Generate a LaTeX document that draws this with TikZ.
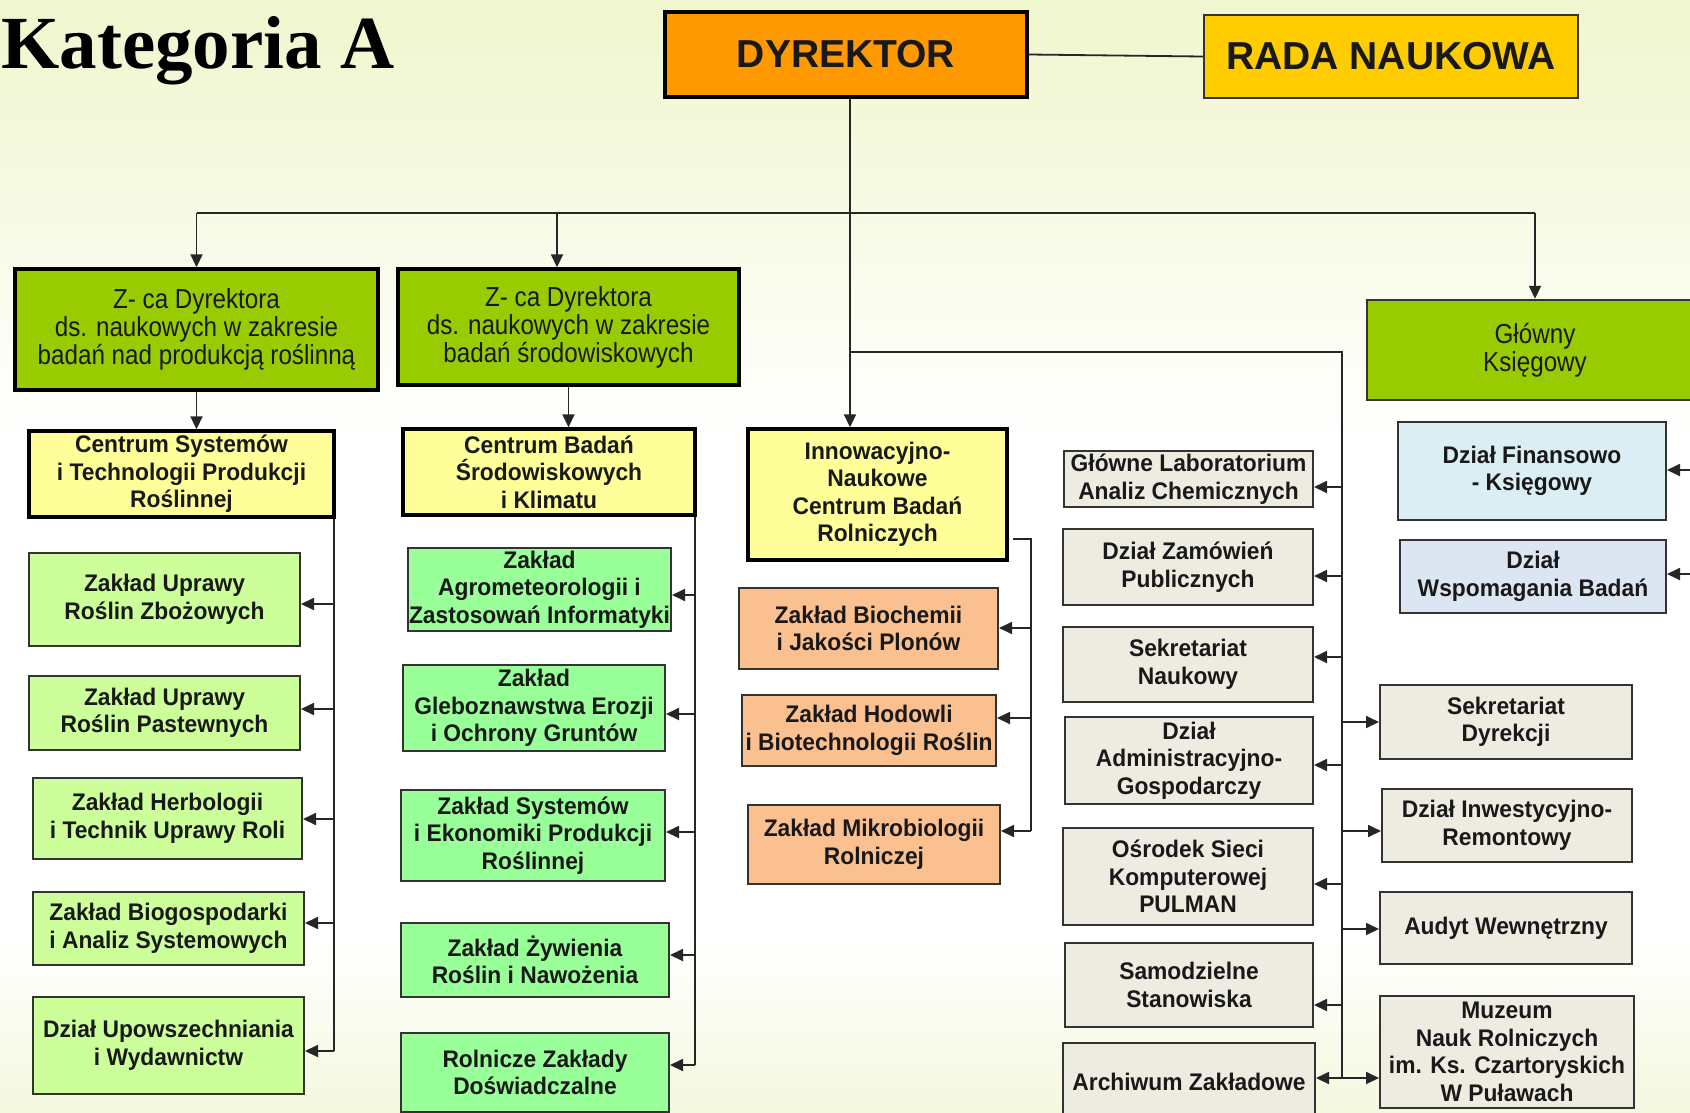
\documentclass[tikz,border=0pt]{standalone}
\usepackage{fontspec}
\setmainfont{Liberation Sans}
\newfontfamily\bxfamily{Liberation Sans}[FakeStretch=0.95]
\newfontfamily\zfamily{Liberation Sans}[FakeStretch=0.88]
\newfontfamily\ktfamily{Liberation Serif}
\usetikzlibrary{arrows.meta,calc}

\definecolor{cDyr}{HTML}{FF9900}
\definecolor{cRada}{HTML}{FFCC00}
\definecolor{cZ}{HTML}{99CC00}
\definecolor{cCen}{HTML}{FFFF99}
\definecolor{cL}{HTML}{CCFF99}
\definecolor{cM}{HTML}{99FF99}
\definecolor{cO}{HTML}{FAC090}
\definecolor{cG}{HTML}{EEECE1}
\definecolor{cBa}{HTML}{DBEEF4}
\definecolor{cBb}{HTML}{DCE6F2}
\definecolor{bgTop}{HTML}{DDEB90}
\definecolor{bgBot}{HTML}{D0E47C}

\pgfdeclareverticalshading{bgsh}{100bp}{color(0bp)=(bgBot); color(33bp)=(white); color(55bp)=(white); color(100bp)=(bgTop)}

\newcommand{\bxfont}{\bxfamily\bfseries\fontsize{24}{27.5}\selectfont}
\newcommand{\zfont}{\zfamily\fontsize{27.5}{28}\selectfont}
\newcommand{\obox}[7]{\node[#2, minimum width={#5-#3}, minimum height={#6-#4}] (#1) at ({(#3+#5)/2},{(#4+#6)/2}) {#7};}
\newcommand{\larr}[3]{\draw[arr] (#1 |- 0,#3) -- (#2.east |- 0,#3);}
\newcommand{\rarr}[3]{\draw[arr] (#1 |- 0,#3) -- (#2.west |- 0,#3);}

\tikzset{
  bx/.style={rectangle, draw=black!80, line width=2pt, align=center, inner sep=0pt, font=\bxfont, text=black!90},
  bxk/.style={bx, line width=3.4pt, draw=black},
  conn/.style={line width=1.8pt, draw=black!85},
  arr/.style={conn, -{Triangle[length=13pt,width=12pt]}},
}

\begin{document}
\begin{tikzpicture}[x=1pt, y=-1pt]
\useasboundingbox (0,0) rectangle (1690,1112);
\clip (0,0) rectangle (1690,1112);
\shade[shading=bgsh] (0,0) rectangle (1690,1112);

\node[anchor=base west, inner sep=0pt, font=\ktfamily\bfseries\fontsize{75}{80}\selectfont] (title) at (1,68) {Kategoria A};

% top level
\obox{dyr}{bxk, fill=cDyr, line width=3.8pt, font=\bfseries\fontsize{39}{40}\selectfont}{665}{12}{1027}{97}{DYREKTOR}
\obox{rada}{bx, fill=cRada, line width=2.4pt, font=\bfseries\fontsize{39}{40}\selectfont}{1204}{15}{1578}{98}{RADA NAUKOWA}

\obox{z1}{bxk, fill=cZ, font=\zfont}{15}{269}{378}{390}{\rule{0pt}{12pt}Z- ca Dyrektora\\ds. naukowych w zakresie\\badań nad produkcją roślinną}
\obox{z2}{bxk, fill=cZ, font=\zfont}{398}{269}{739}{385}{Z- ca Dyrektora\\ds. naukowych w zakresie\\badań środowiskowych}
\obox{gk}{bx, fill=cZ, line width=2.4pt, font=\zfont}{1367}{300}{1703}{400}{Główny\\Księgowy}

% centres
\obox{cs}{bxk, fill=cCen}{29}{431}{334}{517}{Centrum Systemów\\i Technologii Produkcji\\Roślinnej}
\obox{cb}{bxk, fill=cCen}{403}{429}{695}{515}{Centrum Badań\\Środowiskowych\\i Klimatu}
\obox{in}{bxk, fill=cCen}{748}{429}{1007}{560}{Innowacyjno-\\Naukowe\\Centrum Badań\\Rolniczych}

% left column
\obox{l1}{bx, fill=cL}{29}{553}{300}{646}{Zakład Uprawy\\Roślin Zbożowych}
\obox{l2}{bx, fill=cL}{29}{676}{300}{750}{Zakład Uprawy\\Roślin Pastewnych}
\obox{l3}{bx, fill=cL}{33}{778}{302}{859}{Zakład Herbologii\\i Technik Uprawy Roli}
\obox{l4}{bx, fill=cL}{33}{892}{304}{965}{Zakład Biogospodarki\\i Analiz Systemowych}
\obox{l5}{bx, fill=cL}{33}{997}{304}{1094}{Dział Upowszechniania\\i Wydawnictw}

% second column
\obox{m1}{bx, fill=cM}{408}{548}{671}{631}{Zakład\\Agrometeorologii i\\Zastosowań Informatyki}
\obox{m2}{bx, fill=cM}{403}{665}{665}{751}{Zakład\\Gleboznawstwa Erozji\\i Ochrony Gruntów}
\obox{m3}{bx, fill=cM}{401}{790}{665}{881}{Zakład Systemów\\i Ekonomiki Produkcji\\Roślinnej}
\obox{m4}{bx, fill=cM}{401}{923}{669}{997}{Zakład Żywienia\\Roślin i Nawożenia}
\obox{m5}{bx, fill=cM}{401}{1033}{669}{1112}{Rolnicze Zakłady\\Doświadczalne}

% orange column
\obox{o1}{bx, fill=cO}{739}{588}{998}{669}{Zakład Biochemii\\i Jakości Plonów}
\obox{o2}{bx, fill=cO}{742}{695}{996}{766}{Zakład Hodowli\\i Biotechnologii Roślin}
\obox{o3}{bx, fill=cO}{748}{805}{1000}{884}{Zakład Mikrobiologii\\Rolniczej}

% gray middle column
\obox{g1}{bx, fill=cG}{1064}{451}{1313}{507}{Główne Laboratorium\\Analiz Chemicznych}
\obox{g2}{bx, fill=cG}{1063}{529}{1313}{605}{Dział Zamówień\\Publicznych}
\obox{g3}{bx, fill=cG}{1063}{627}{1313}{702}{Sekretariat\\Naukowy}
\obox{g4}{bx, fill=cG}{1065}{717}{1313}{804}{Dział\\Administracyjno-\\Gospodarczy}
\obox{g5}{bx, fill=cG}{1063}{828}{1313}{925}{Ośrodek Sieci\\Komputerowej\\PULMAN}
\obox{g6}{bx, fill=cG}{1065}{943}{1313}{1027}{Samodzielne\\Stanowiska}
\obox{g7}{bx, fill=cG}{1063}{1043}{1315}{1121}{Archiwum Zakładowe}

% gray right column
\obox{r1}{bx, fill=cG}{1380}{685}{1632}{759}{Sekretariat\\Dyrekcji}
\obox{r2}{bx, fill=cG}{1382}{789}{1632}{862}{Dział Inwestycyjno-\\Remontowy}
\obox{r3}{bx, fill=cG}{1380}{892}{1632}{964}{Audyt Wewnętrzny}
\obox{r4}{bx, fill=cG}{1380}{996}{1634}{1108}{Muzeum\\Nauk Rolniczych\\im. Ks. Czartoryskich\\W Puławach}

% blue
\obox{b1}{bx, fill=cBa}{1398}{422}{1666}{520}{Dział Finansowo\\- Księgowy}
\obox{b2}{bx, fill=cBb}{1400}{540}{1666}{613}{Dział\\Wspomagania Badań}

% helper coordinates
\coordinate (tr) at (850,0);
\coordinate (bb) at (557,0);
\coordinate (bus) at (0,213);
\coordinate (br) at (0,352);
\coordinate (lx) at (334,0);
\coordinate (mx) at (695,0);
\coordinate (ox) at (1031,0);
\coordinate (gx) at (1342,0);
\coordinate (rx) at (1700,0);

% connectors
\draw[conn] (dyr.east) -- (rada.west);
\draw[arr] (dyr.south -| tr) -- (in.north -| tr);
\draw[conn] (z1.north |- bus) -- (gk.north |- bus);
\draw[arr] (z1.north |- bus) -- (z1.north);
\draw[arr] (bb |- bus) -- (bb |- z2.north);
\draw[arr] (gk.north |- bus) -- (gk.north);
\draw[arr] (z1.south) -- (z1.south |- cs.north);
\draw[arr] (z2.south) -- (z2.south |- cb.north);

\draw[conn] (cs.south -| lx) -- (lx |- 0,1051);
\larr{lx}{l1}{604}
\larr{lx}{l2}{709}
\larr{lx}{l3}{819}
\larr{lx}{l4}{923}
\larr{lx}{l5}{1051}

\draw[conn] (cb.south -| mx) -- (mx |- 0,1065);
\larr{mx}{m1}{595}
\larr{mx}{m2}{714}
\larr{mx}{m3}{832}
\larr{mx}{m4}{955}
\larr{mx}{m5}{1065}

\draw[conn] ($(in.east |- 0,539)+(4,0)$) -| (ox |- 0,831);
\larr{ox}{o1}{628}
\larr{ox}{o2}{718}
\larr{ox}{o3}{831}

\draw[conn] (tr |- br) -| (gx |- 0,1078);
\larr{gx}{g1}{487}
\larr{gx}{g2}{576}
\larr{gx}{g3}{657}
\larr{gx}{g4}{765}
\larr{gx}{g5}{884}
\larr{gx}{g6}{1005}
\larr{gx}{g7}{1078}
\rarr{gx}{r1}{722}
\rarr{gx}{r2}{831}
\rarr{gx}{r3}{929}
\rarr{gx}{r4}{1078}

\larr{rx}{b1}{470}
\larr{rx}{b2}{574}
\end{tikzpicture}
\end{document}
